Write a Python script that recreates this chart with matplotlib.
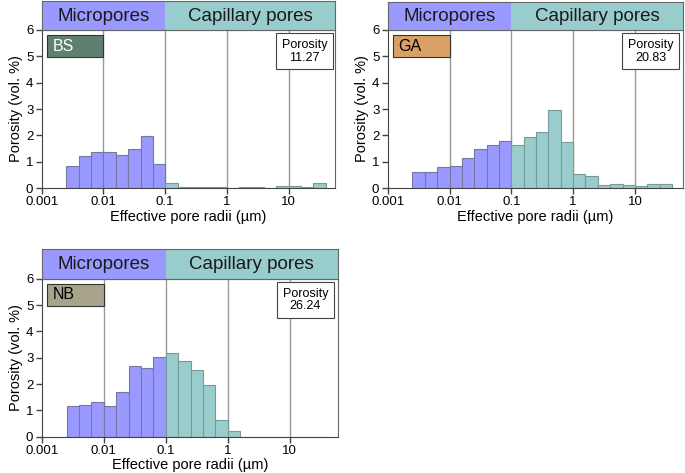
import numpy as np
import matplotlib.pyplot as plt
from matplotlib.patches import Rectangle

plt.rcParams['font.family'] = ['Liberation Sans', 'DejaVu Sans']

# bin edges: 5 bins per decade, 10^-2.6 ... 10^1.6
edges = 10 ** np.arange(-2.6, 1.61, 0.2)
n_micro = 8  # bins below 0.1 um

samples = ['BS', 'GA', 'NB']
sample_colors = ['#5f8070', '#d9a066', '#a8a48c']
sample_text = ['white', 'black', 'black']
porosity = ['11.27', '20.83', '26.24']

bs_vals = [0.85, 1.21, 1.35, 1.35, 1.24, 1.50, 1.99, 0.93,
           0.19, 0.05, 0.03, 0.03, 0.05, 0.0, 0.04, 0.02, 0.01, 0.08, 0.08, 0.05, 0.20]
ga_vals = [0.60, 0.61, 0.80, 0.85, 1.13, 1.50, 1.63, 1.78,
           1.64, 1.92, 2.12, 2.97, 1.73, 0.55, 0.47, 0.10, 0.17, 0.13, 0.09, 0.14, 0.17]
nb_vals = [1.16, 1.20, 1.32, 1.16, 1.71, 2.67, 2.62, 3.03,
           3.18, 2.87, 2.52, 1.96, 0.65, 0.23, 0.0, 0.0, 0.0, 0.0, 0.0, 0.0, 0.0]
all_vals = [bs_vals, ga_vals, nb_vals]

micro_col = '#9999ff'
cap_col = '#99cccc'

W, H = 685, 473
# (left, right, plot top, plot bottom, header top) in pixels
boxes = [(41.7, 335, 30, 188, 1),
         (387.7, 683, 30, 188, 2),
         (41.7, 338, 278.7, 436.7, 249.3)]
xlims = [(0.001, 56), (0.001, 60), (0.001, 60)]

fig = plt.figure(figsize=(W / 100, H / 100), dpi=100)

for i in range(3):
    l, r, t, b, ht = boxes[i]
    ax = fig.add_axes([l / W, 1 - b / H, (r - l) / W, (b - t) / H])
    hx = fig.add_axes([l / W, 1 - t / H, (r - l) / W, (t - ht) / H])
    vals = np.array(all_vals[i])

    ax.set_xscale('log')
    ax.set_xlim(*xlims[i])
    ax.set_ylim(0, 6)
    for xv in [0.01, 0.1, 1, 10]:
        ax.axvline(xv, color='#999999', lw=1, zorder=0)

    lefts = edges[:-1]
    widths = np.diff(edges)
    cols = [micro_col] * n_micro + [cap_col] * (len(vals) - n_micro)
    edgec = ['#77779f'] * n_micro + ['#789a9a'] * (len(vals) - n_micro)
    ax.bar(lefts, vals, width=widths, align='edge', color=cols,
           edgecolor=edgec, linewidth=0.8, zorder=2)

    ax.set_xticks([0.001, 0.01, 0.1, 1, 10])
    ax.set_xticklabels(['0.001', '0.01', '0.1', '1', '10'])
    ax.xaxis.set_minor_locator(plt.NullLocator())
    ax.set_yticks(range(7))
    ax.tick_params(labelsize=9.5, color='#444444', length=4, width=1, pad=2)
    for s in ax.spines.values():
        s.set_color('#666666')
    ax.spines['left'].set_color('#444444')
    ax.spines['bottom'].set_color('#444444')
    ax.set_xlabel('Effective pore radii (µm)', fontsize=10.5, labelpad=1)
    ax.set_ylabel('Porosity (vol. %)', fontsize=10.5, labelpad=2)

    # sample label
    ax.add_patch(Rectangle((0.00122, 4.97), 0.01 - 0.00122, 0.84,
                           facecolor=sample_colors[i], edgecolor='#333333',
                           lw=0.8, zorder=3))
    ax.text(0.0015, 5.39, samples[i], color=sample_text[i], fontsize=11.5,
            va='center', ha='left', zorder=4)

    # porosity box
    ax.text(17.8, 5.19, 'Porosity\n' + porosity[i], fontsize=9, ha='center',
            va='center', linespacing=1.05, zorder=4,
            bbox=dict(boxstyle='square,pad=0.45', fc='white', ec='#444444', lw=0.8))

    # header band
    hx.set_xscale('log')
    hx.set_xlim(*xlims[i])
    hx.set_ylim(0, 1)
    hx.axvspan(xlims[i][0], 0.1, color=micro_col, lw=0)
    hx.axvspan(0.1, xlims[i][1], color=cap_col, lw=0)
    hx.text(0.01, 0.48, 'Micropores', ha='center', va='center', fontsize=13.5, color='#1a1a1a')
    hx.text(np.sqrt(0.1 * xlims[i][1]), 0.48, 'Capillary pores', ha='center', va='center',
            fontsize=13.5, color='#1a1a1a')
    hx.set_xticks([])
    hx.set_yticks([])
    hx.xaxis.set_minor_locator(plt.NullLocator())
    for s in hx.spines.values():
        s.set_color('#666666')

fig.savefig('out.png', dpi=100)
